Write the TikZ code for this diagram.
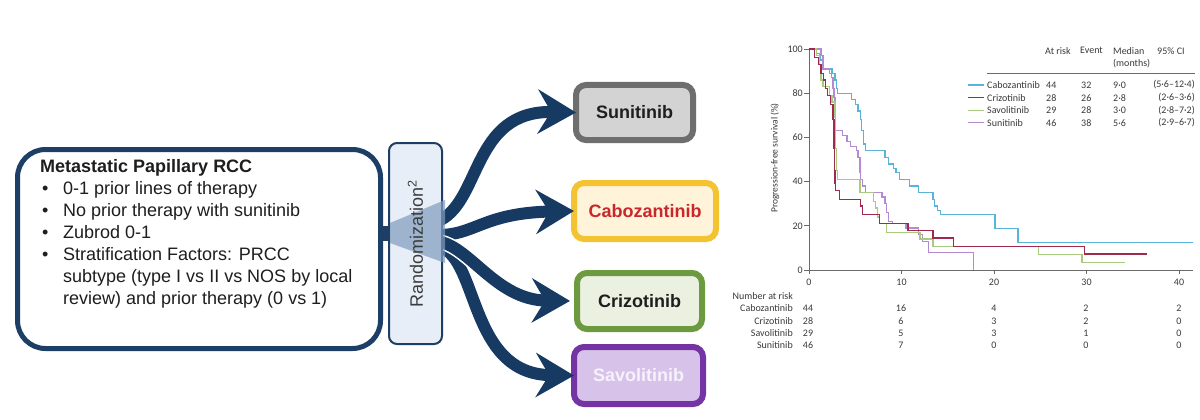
\documentclass[tikz,border=0pt]{standalone}
\usepackage{fontspec}
\setmainfont{Liberation Sans}
\newfontfamily\plotfont{Carlito}
\usetikzlibrary{arrows.meta}
\definecolor{navy}{HTML}{1D3F66}
\definecolor{arrcol}{HTML}{173A63}
\definecolor{randfill}{HTML}{E8EEF7}
\definecolor{wedgecol}{HTML}{7F9CBD}
\definecolor{txt}{HTML}{1E1E1E}
\definecolor{randtxt}{HTML}{3C3C3C}
\definecolor{sunB}{HTML}{6E6E6E}\definecolor{sunF}{HTML}{D3D3D3}
\definecolor{cabB}{HTML}{F4C331}\definecolor{cabF}{HTML}{FFF3D9}\definecolor{cabT}{HTML}{C8282B}
\definecolor{crzB}{HTML}{6B9A3F}\definecolor{crzF}{HTML}{EAF1E1}
\definecolor{savB}{HTML}{7434A3}\definecolor{savF}{HTML}{D7C3EA}\definecolor{savT}{HTML}{F6F1FB}
\definecolor{kmcabo}{HTML}{5AB4DA}
\definecolor{kmcriz}{HTML}{A02A4E}
\definecolor{kmsavo}{HTML}{A9CB7F}
\definecolor{kmsuni}{HTML}{B48AD0}
\definecolor{ptxt}{HTML}{3A3A3A}
\definecolor{axcol}{HTML}{6A6A6A}
\begin{document}
\begin{tikzpicture}[x=1pt,y=-1pt,
  lbox/.style={draw=navy, line width=5pt, rounded corners=28pt, fill=white,
    minimum width=363pt, minimum height=199pt, inner sep=0pt},
  randbox/.style={draw=navy, line width=2pt, fill=randfill, rounded corners=8pt,
    minimum width=53pt, minimum height=201pt, inner sep=0pt},
  drug/.style={line width=6pt, rounded corners=10pt, inner sep=0pt,
    font=\bfseries\fontsize{18}{21}\selectfont},
  arr/.style={draw=arrcol, line width=12pt,
    -{Stealth[length=38pt,width=44pt,inset=13pt]}},
  km/.style={line width=1.3pt},
  axis/.style={draw=axcol, line width=0.8pt},
  pt/.style={inner sep=0pt, font=\plotfont\fontsize{10}{12}\selectfont, text=ptxt}
]
\useasboundingbox[fill=white] (0,0) rectangle (1200,420);

% ---------- drug boxes ----------
\node[drug, draw=sunB, fill=sunF, text=txt, minimum width=117pt, minimum height=55pt] (sun) at (634.5,112.5) {Sunitinib};
\node[drug, draw=cabB, fill=cabF, text=cabT, minimum width=142pt, minimum height=56pt] (cab) at (645,211) {Cabozantinib};
\node[drug, draw=crzB, fill=crzF, text=txt, minimum width=125pt, minimum height=56pt] (crz) at (639.5,301) {Crizotinib};
\node[drug, draw=savB, fill=savF, text=savT, minimum width=129pt, minimum height=57pt] (sav) at (638.5,375.5) {Savolitinib};

% ---------- arrows ----------
\coordinate (h1) at (436,222);
\coordinate (h2) at (436,235);
\coordinate (h3) at (436,241);
\coordinate (h4) at (436,246);
\draw[arr] (h1) .. controls (482,205) and (470,110) .. ([xshift=3pt]sun.west);
\draw[arr] (h2) .. controls (475,236) and (482,213) .. ([xshift=3pt]cab.west);
\draw[arr] (h4) .. controls (480,252) and (466,374) .. ([xshift=3pt]sav.west);
\draw[white, line width=15pt] (h3) .. controls (470,245) and (495,300) .. (540,300);
\draw[arr, shorten >=4pt] (h3) .. controls (470,245) and (495,300) .. (crz.west);

% ---------- left box ----------
\node[lbox] (lb) at (199,249) {};
\node[anchor=base west, inner sep=0pt, text=txt] (lt) at (40,172.7) {\fontsize{18}{21.9}\selectfont
\begin{tabular}[t]{@{}l@{}l@{}}
\multicolumn{2}{@{}l@{}}{\bfseries Metastatic Papillary RCC}\\
\makebox[23pt][l]{\hspace{2pt}\textbullet} & 0-1 prior lines of therapy\\
\makebox[23pt][l]{\hspace{2pt}\textbullet} & No prior therapy with sunitinib\\
\makebox[23pt][l]{\hspace{2pt}\textbullet} & Zubrod 0-1\\
\makebox[23pt][l]{\hspace{2pt}\textbullet} & Stratification Factors: PRCC\\
 & subtype (type I vs II vs NOS by local\\
 & review) and prior therapy (0 vs 1)
\end{tabular}};

% ---------- randomization ----------
\node[randbox] (rb) at (415.5,243.5) {};
\coordinate (bar) at (0,233);
\draw[navy, line width=15pt] (lb.east |- bar) -- (rb.west |- bar);
\fill[wedgecol, opacity=0.7] (390,223) -- (445,200) -- (445,263) -- (390,243) -- cycle;
\node[rotate=90, text=randtxt, inner sep=0pt, font=\fontsize{18}{21}\selectfont] (rt) at (rb.center) {Randomization\textsuperscript{2}};

% ---------- KM plot ----------
\node[pt, rotate=90, font=\plotfont\fontsize{9.5}{11}\selectfont] (ylab) at (775,158) {Progression-free survival (\%)};
\begin{scope}[shift={(809,270)}, x=9.25pt, y=2.21pt]
  \draw[axis] (0,100) -- (0,0) -- (41.5,0);
  \foreach \s in {0,20,40,60,80,100} {
    \draw[axis] (0,\s) -- ++(-5pt,0);
    \node[pt, anchor=east] (yt\s) at ([xshift=-6pt]0,\s) {\s};
  }
  \foreach \t in {0,10,20,30,40} {
    \draw[axis] (\t,0) -- ++(0,-4pt);
    \node[pt] (xt\t) at ([yshift=-12pt]\t,0) {\t};
  }
  % Cabozantinib
  \draw[km, kmcabo] (0,100) -| (0.8,98) -| (1.2,95) -| (1.6,91) -| (2.5,89) -| (2.8,86) -| (3.0,82) -| (3.1,80)
    -| (4.6,77) -| (5.0,75) -| (5.3,72) -| (5.6,68) -| (5.7,63) -| (5.9,57) -| (6.1,54) -| (8.2,51)
    -| (8.6,48) -| (9.1,46) -| (9.4,44) -| (9.8,41) -| (10.9,38) -| (11.8,35) -| (13.4,32) -| (13.6,29)
    -| (13.9,27) -| (14.2,25) -| (20.1,18.7) -| (22.6,12.5) -- (41.5,12.5);
  % Sunitinib
  \draw[km, kmsuni] (0,100) -| (1.3,97) -| (1.5,91) -| (2.2,89) -| (2.4,87) -| (2.6,82) -| (2.7,78) -| (2.8,72)
    -| (2.9,63) -| (3.6,61) -| (4.1,58) -| (4.5,56) -| (5.1,54) -| (5.3,51) -| (5.5,44) -| (5.6,41)
    -| (5.8,38) -| (6.1,35) -| (7.9,33) -| (8.2,30) -| (8.4,26) -| (8.6,22) -| (9.0,21) -| (10.5,19)
    -| (11.8,16) -| (12.3,13) -| (12.9,8) -| (17.8,0);
  % Savolitinib
  \draw[km, kmsavo] (0,100) -| (0.8,97) -| (1.1,93) -| (1.3,86) -| (1.5,83) -| (2.2,79) -| (2.5,76) -| (2.8,69)
    -| (2.9,55) -| (3.0,45) -| (3.1,41) -| (5.5,35) -| (7.0,31) -| (7.2,28) -| (7.4,24) -| (7.6,21)
    -| (8.4,17) -| (12.0,14) -| (13.4,10.7) -| (24.8,6.9) -| (29.5,3.5) -- (34.2,3.5);
  % Crizotinib
  \draw[km, kmcriz] (0,100) -| (0.6,96) -| (1.0,93) -| (1.3,89) -| (1.6,86) -| (1.8,82) -| (2.0,79) -| (2.3,75)
    -| (2.6,68) -| (2.7,55) -| (2.75,45) -| (2.8,39) -| (2.9,36) -| (3.3,32) -| (5.6,29) -| (5.8,25)
    -| (7.6,21) -| (10.7,18) -| (13.4,14.5) -| (15.6,10.7) -| (29.8,7.2) -- (36.5,7.2);
\end{scope}

% legend
\node[pt, anchor=west] (hA) at (1045,50.7) {At risk};
\node[pt, anchor=west] (hE) at (1080,50.7) {Event};
\node[pt, anchor=west] (hM) at (1113,50.7) {Median};
\node[pt, anchor=west] (hM2) at (1113,63.3) {(months)};
\node[pt, anchor=west] (hC) at (1157,50.7) {95\% CI};
\draw[axcol, line width=0.8pt] (987,73.3) -- (1195,73.3);
\foreach \y/\c/\n/\a/\e/\m/\ci in {85/kmcabo/Cabozantinib/44/32/9·0/(5·6–12·4),
    97.7/kmcriz/Crizotinib/28/26/2·8/(2·6–3·6),
    110.5/kmsavo/Savolitinib/29/28/3·0/(2·8–7·2),
    122.7/kmsuni/Sunitinib/46/38/5·6/(2·9–6·7)} {
  \draw[\c, line width=1.2pt] (968,\y) -- (984,\y);
  \node[pt, anchor=west] at (987,\y) {\n};
  \node[pt, anchor=west] at (1046,\y) {\a};
  \node[pt, anchor=west] at (1081,\y) {\e};
  \node[pt, anchor=west] at (1113,\y) {\m};
  \node[pt, anchor=east] at (1195,\y) {\ci};
}

% number at risk
\node[pt, anchor=east] (nar) at (793,296) {Number at risk};
\foreach \y/\n/\a/\b/\c/\d/\e in {308.5/Cabozantinib/44/16/4/2/2,
    321/Crizotinib/28/6/3/2/0,
    333/Savolitinib/29/5/3/1/0,
    345/Sunitinib/46/7/0/0/0} {
  \node[pt, anchor=east] at (793,\y) {\n};
  \node[pt] at (808,\y) {\a};
  \node[pt] at (901,\y) {\b};
  \node[pt] at (994,\y) {\c};
  \node[pt] at (1086,\y) {\d};
  \node[pt] at (1179,\y) {\e};
}
\end{tikzpicture}
\end{document}
